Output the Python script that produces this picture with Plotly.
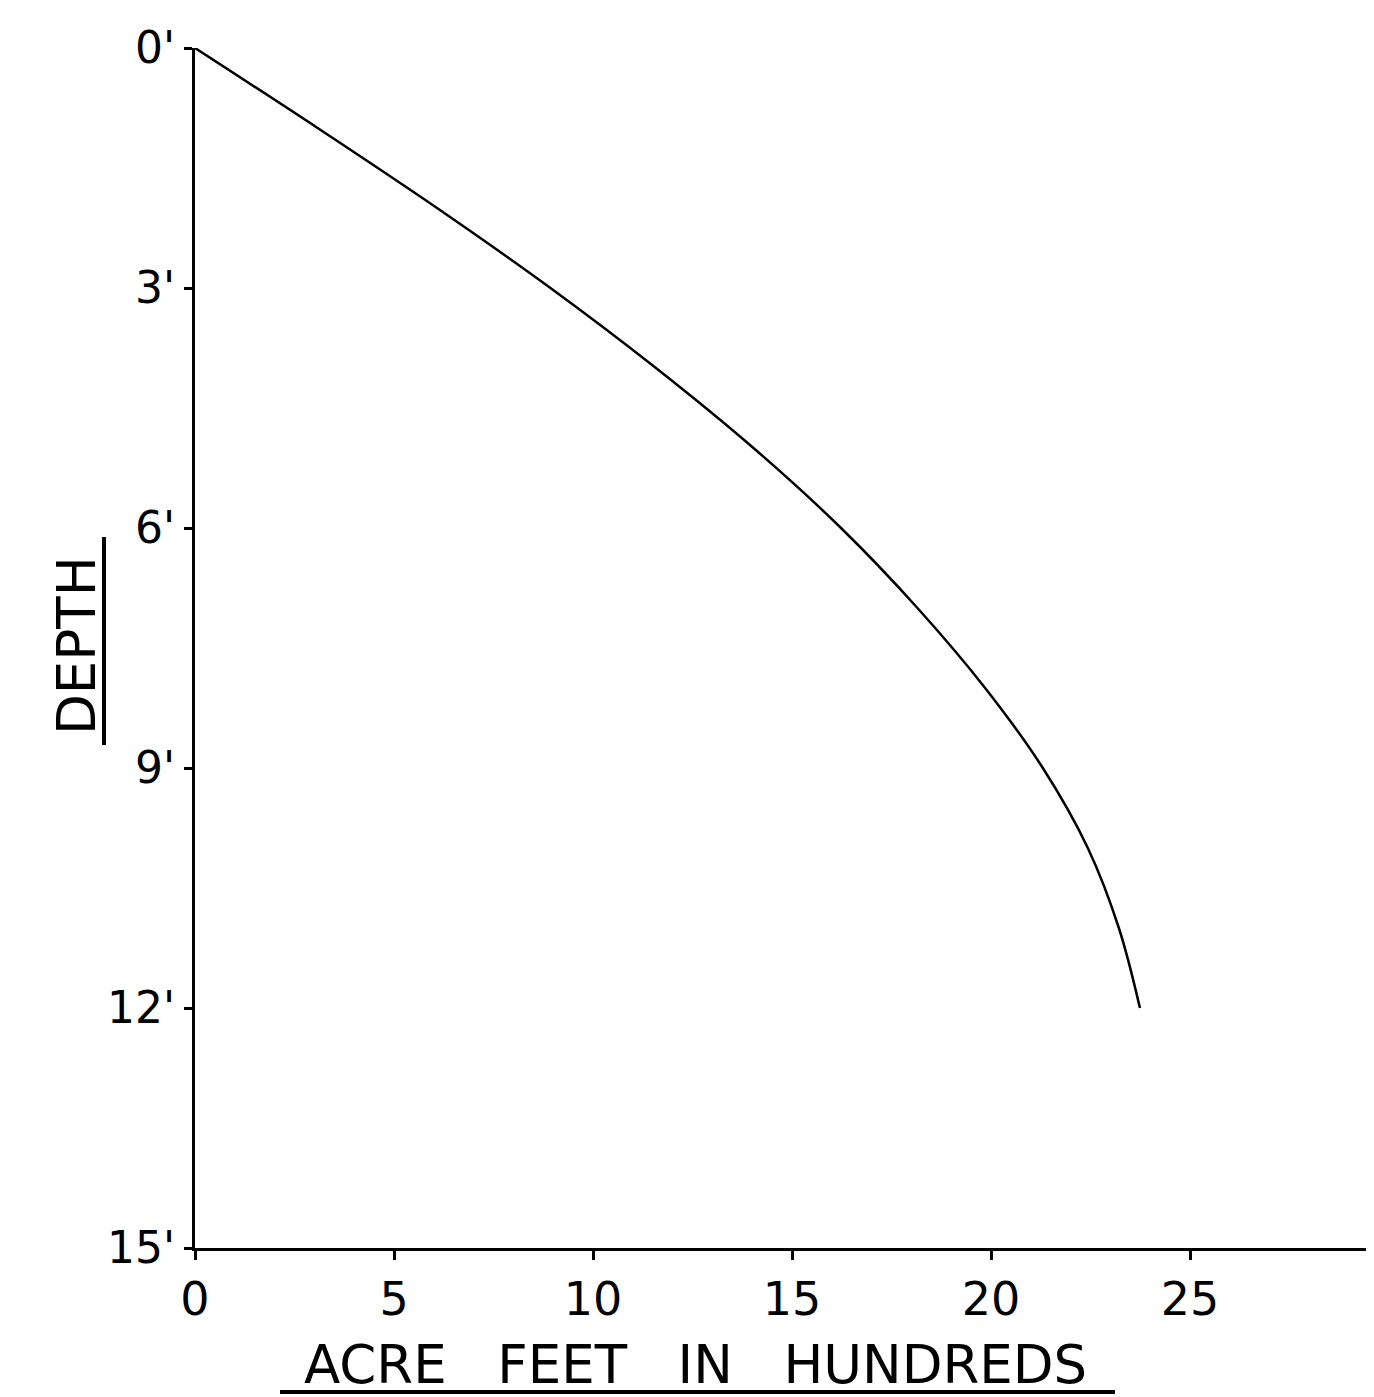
import plotly.graph_objects as go

# Data (depth in feet, storage in hundreds of acre-feet)
depth_ft = [0, 1, 2, 3, 4, 5, 6, 7, 8, 9, 10, 11, 12]
acre_feet_hundreds = [0, 3.08, 6.08, 8.93, 11.58, 14.03, 16.23, 18.15, 19.85, 21.30, 22.43, 23.21, 23.74]

x_ticks = [0, 5, 10, 15, 20, 25]
x_tick_labels = ["0", "5", "10", "15", "20", "25"]
y_ticks = [0, 3, 6, 9, 12, 15]
y_tick_labels = ["0'", "3'", "6'", "9'", "12'", "15'"]

FONT = "DejaVu Sans"

# screen -> paper helpers (plot area on screen: x 195..1374, y 48..1248)
def px(xs):
    return (xs - 195) / 1179

def py(ys):
    return 1 - (ys - 48) / 1200

fig = go.Figure()
fig.add_trace(go.Scatter(
    x=acre_feet_hundreds, y=depth_ft, mode="lines",
    line=dict(color="black", width=2.5, shape="spline", smoothing=1.0),
    showlegend=False, hoverinfo="skip",
))

fig.update_layout(
    width=1374, height=1397,
    margin=dict(l=187, r=8, t=40, b=157),
    paper_bgcolor="white", plot_bgcolor="white",
    xaxis=dict(
        range=[0, 29.62], showgrid=False, zeroline=False,
        showline=True, linecolor="black", linewidth=3,
        tickmode="array", tickvals=x_ticks, ticktext=x_tick_labels,
        ticks="outside", ticklen=9, tickwidth=3, tickcolor="black",
        tickfont=dict(family=FONT, size=46, color="black"),
    ),
    yaxis=dict(
        range=[15, 0], showgrid=False, zeroline=False,
        showline=True, linecolor="black", linewidth=3,
        tickmode="array", tickvals=y_ticks, ticktext=y_tick_labels,
        ticks="outside", ticklen=8, tickwidth=3, tickcolor="black",
        tickfont=dict(family=FONT, size=44, color="black"),
    ),
    annotations=[
        dict(text="ACRE\u00a0\u00a0 FEET\u00a0\u00a0 IN\u00a0\u00a0 HUNDREDS", xref="paper", yref="paper",
             x=px(695), y=py(1364), xanchor="center", yanchor="middle",
             showarrow=False, font=dict(family=FONT, size=53, color="black")),
        dict(text="DEPTH", xref="paper", yref="paper", textangle=-90,
             x=px(76), y=py(646), xanchor="center", yanchor="middle",
             showarrow=False, font=dict(family=FONT, size=53, color="black")),
    ],
    shapes=[
        dict(type="line", xref="paper", yref="paper",
             x0=px(280), x1=px(1115), y0=py(1392), y1=py(1392),
             line=dict(color="black", width=4)),
        dict(type="line", xref="paper", yref="paper",
             x0=px(104), x1=px(104), y0=py(537), y1=py(745),
             line=dict(color="black", width=4)),
    ],
)

fig.write_html("out.html")
